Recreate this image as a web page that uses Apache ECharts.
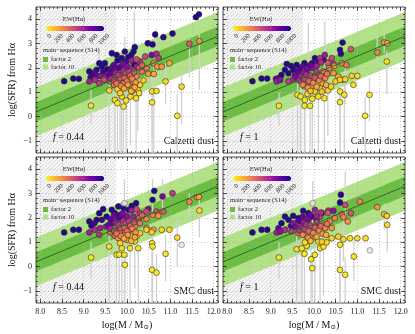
<!DOCTYPE html>
<html>
<head>
<meta charset="utf-8">
<script src="https://cdn.jsdelivr.net/npm/echarts@6/dist/echarts.min.js"></script>
<style>
html, body { margin: 0; padding: 0; background: #fff; }
#chart { width: 415px; height: 334px; }
</style>
</head>
<body>
<div id="chart"></div>
<script>
// axis ranges and ticks
var xMin = 7.9, xMax = 12.1, yMin = -1.5, yMax = 4.5;
var xMajor = [8.0, 8.5, 9.0, 9.5, 10.0, 10.5, 11.0, 11.5, 12.0];
var yMajor = [-1, 0, 1, 2, 3, 4];
var ewTicks = [0, 200, 400, 600, 800, 1000];

// main sequence (S14): value at left edge and slope
var msAtLeft = 0.19, msSlope = 0.74;
var factor2Width = 0.4, factor10Width = 1.0;
var hatchEdge = 9.75;

// [log M, log SFR, EW(Ha), errLow, errHigh]
var calz044 = [
  [8.55,1.45,950],[8.76,1.56,950],[8.89,1.55,950],[9.13,1.85,950],[9.21,1.71,950],[9.16,1.62,900],
  [9.30,1.92,950],[9.36,2.19,950,1.7,2.6],[9.42,2.05,950],[9.49,2.19,950],[9.45,1.85,900],[9.55,1.95,950],
  [9.65,2.60,950],[9.68,2.08,900],[9.76,2.53,950],[9.78,2.30,950],[9.88,2.40,950],[9.95,2.67,950,2.2,3.3],
  [9.98,2.26,900],[10.03,2.44,950],[10.10,2.53,950],[10.15,2.67,950],[10.18,2.85,950],[10.17,2.12,950,1.5,4.3],
  [10.48,3.01,950],[10.59,2.96,950],[10.65,3.37,950],[10.84,3.26,950],[11.05,3.41,950],[11.59,4.08,950],
  [11.66,4.20,950],[9.25,1.81,850],[9.32,1.67,800],
  [9.13,1.44,650],[9.26,1.51,600],[9.38,1.67,700],[9.52,1.64,650],[9.61,1.78,700],[9.72,1.92,750],
  [9.84,1.99,700],[9.95,2.05,650],[10.07,1.99,600],[10.22,2.05,650],[10.30,2.26,600],[10.42,2.47,500],
  [10.57,2.53,750],[10.68,2.58,600,1.5,3.6],[10.73,2.40,550],[11.44,2.99,450,1.6,3.2],[9.36,1.37,550],
  [9.47,1.51,500],[9.72,1.62,550],[9.88,1.75,500],
  [9.61,1.44,400],[9.70,1.30,350],[9.82,1.51,400],[9.93,1.37,300],[10.05,1.58,350],[10.13,1.44,300],
  [10.22,1.64,300],[10.34,1.85,350],[10.45,1.99,350],[10.61,2.19,300],[10.70,2.05,250],[10.49,1.75,250],
  [10.62,1.75,200,-1.5,2.1],[10.80,2.05,250],[10.98,2.19,200],[11.67,3.10,250,1.1,3.4],[9.99,1.21,250],
  [10.15,1.21,200],
  [9.17,0.45,50,-0.3,1.1],[9.59,1.07,80,-1.5,1.6],[9.78,1.12,90],[9.72,0.68,60,-1.5,1.2],
  [9.78,0.55,40,-1.5,1.0],[9.88,0.82,70,-1.5,1.3],[9.92,0.41,30,-1.5,0.9],[9.98,0.66,50,-1.5,1.1],
  [10.08,0.82,80,-1.2,1.3],[10.21,0.75,60,-1.5,1.2],[10.25,1.10,90,-0.6,1.6],[10.30,1.30,100],
  [10.38,1.48,110],[10.28,0.96,70],[10.58,1.03,60,-0.9,1.8],[10.68,1.05,60],[10.58,0.58,40,-1.5,1.1],
  [10.89,1.44,80,0.5,2.2],[11.26,1.23,70,-0.3,1.8],[11.16,0.03,30,-1.5,0.9],[10.11,1.03,80],
  [9.84,0.96,90,-1.5,1.4],
  [9.58,1.72,800],[9.63,1.55,600],[9.70,1.48,500],[9.74,1.80,650],[9.80,1.70,550],[9.85,1.58,450],
  [9.90,1.90,600],[9.94,1.60,400],[9.97,1.78,500],[10.00,1.45,350],[10.04,1.86,550],[10.08,1.68,400],
  [10.12,1.55,300],[10.16,1.82,450],[10.20,1.40,250],[9.62,1.95,850],[9.70,2.12,800],[9.82,2.02,850],
  [9.90,2.18,750],[10.00,2.06,700],[10.10,2.30,650],[10.22,2.35,500],[10.28,2.00,450],[10.35,2.10,400],
  [9.76,1.35,350],[9.86,1.25,300],[9.93,1.15,200],[10.02,1.30,250],[10.10,1.05,150],[10.18,1.20,200]
];
var calz100 = [
  [8.58,1.45,950],[8.79,1.56,950],[8.92,1.56,950],[10.66,3.04,950],[10.60,2.74,950],[10.62,2.58,950],
  [9.37,2.16,950],[9.47,2.08,950],[9.52,1.92,950],[9.60,2.12,950],[9.68,1.99,950],[9.33,1.92,950],
  [9.41,1.78,950],[9.25,1.71,950],[9.18,1.58,900],[9.78,2.19,950],[9.87,2.05,900,1.6,3.85],[9.96,2.19,950],
  [10.10,2.26,900],[10.02,2.40,950],[10.22,2.33,900],[9.12,1.55,800],
  [9.14,1.44,650],[9.22,1.50,700],[9.56,1.71,750],[9.72,1.78,650],[9.83,1.85,700],[9.95,1.99,700],
  [10.14,2.40,600],[10.25,2.53,650,1.9,3.9],[10.41,2.40,500],[10.45,2.16,550],[10.85,2.77,450],[9.52,1.53,600],
  [9.41,1.44,550],
  [9.64,1.58,400],[9.75,1.44,350],[9.87,1.58,400],[9.98,1.51,350],[10.10,1.71,300],[10.22,1.85,350],
  [10.35,1.99,300],[10.47,2.08,250],[10.64,2.19,300],[10.75,2.12,350],[10.45,1.78,250],[10.56,1.64,200],
  [10.68,1.51,200],[11.46,2.63,300,2.2,3.3],[11.62,3.04,250,2.6,3.4],[11.69,3.01,200],[9.79,1.23,250],
  [9.95,1.26,250],
  [9.19,0.44,40,-0.4,1.0],[9.62,0.89,60,-1.5,1.4],[9.69,0.82,50,-1.5,1.3],[9.79,0.68,40,-1.5,1.2],
  [9.85,0.93,70],[9.78,0.44,30,-1.5,0.9],[9.91,0.44,40,-1.5,0.9],[9.96,0.73,50,-1.5,1.2],
  [10.10,0.82,60,-1.5,1.3],[10.24,0.75,50,-1.5,1.2],[10.32,1.07,80,-0.8,1.6],[10.39,1.23,90],
  [10.50,1.44,100],[10.60,1.51,90],[10.72,1.53,80,0.5,2.3],[10.87,1.67,90],[11.00,1.67,70],
  [10.91,1.30,60],[10.60,1.03,50,-1.0,1.8],[10.70,0.89,40,-1.5,1.5],[10.60,0.59,30,-1.5,1.1],
  [11.28,0.89,40,-0.2,1.6],[11.18,0.03,30,-1.5,0.8],[11.68,2.26,60,0.9,2.7],[10.14,1.16,100],
  [10.02,1.03,80],
  [9.58,1.62,750],[9.66,1.48,550],[9.70,1.65,650],[9.78,1.55,500],[9.82,1.72,600],[9.88,1.45,400],
  [9.92,1.68,500],[9.98,1.38,300],[10.02,1.60,450],[10.06,1.82,550],[10.12,1.48,300],[10.16,1.66,400],
  [10.20,1.35,250],[10.26,1.58,300],[10.30,1.75,350],[9.64,1.88,850],[9.74,2.05,800],[9.84,1.98,750],
  [9.92,2.12,800],[10.06,2.08,650],[10.16,2.22,600],[10.32,2.20,450],[9.74,1.30,300],[9.86,1.18,250],
  [9.92,1.05,150],[10.06,1.22,200],[10.18,1.02,120],[10.28,1.30,180]
];
var smc044 = [
  [8.55,1.40,950],[8.76,1.51,950],[8.89,1.51,950],[9.13,1.85,950],[9.18,1.67,950],[9.30,1.92,950],
  [9.36,2.19,950],[9.45,2.36,950],[9.53,2.05,950],[9.65,2.33,950],[9.72,2.19,950],[9.80,2.47,950],
  [9.92,2.40,950],[10.03,2.33,950],[10.11,2.49,950],[10.21,2.60,950],[10.59,2.74,950,2.0,3.6],
  [10.63,3.11,950],[9.25,1.78,900],[9.42,1.92,900],[9.84,2.12,900],
  [10.49,2.36,750],[9.13,1.40,650],[9.26,1.51,600],[9.38,1.58,650],[9.52,1.64,700],[9.65,1.78,750],
  [9.76,1.92,700],[9.88,1.99,650],[9.99,2.05,600],[10.15,2.05,650],[10.30,2.19,550],[10.45,2.26,500],
  [10.82,2.88,750,2.2,3.6],[11.05,3.01,550],[10.68,2.26,450],[10.84,2.26,450],[9.36,1.30,550],
  [9.61,1.40,400],[9.72,1.26,350],[9.84,1.44,400],[9.95,1.30,300],[10.07,1.51,350],[10.18,1.64,300],
  [10.30,1.78,350],[10.45,1.95,300],[10.59,2.12,300],[10.72,2.08,250],[10.45,1.58,250],[10.61,1.51,200],
  [11.44,2.66,300,2.0,3.0],[11.61,2.85,250],[11.66,2.86,200],[9.80,1.16,250],[9.99,1.10,250],
  [9.17,0.37,40,-0.5,1.0],[9.59,0.82,60,-1.5,1.4],[9.76,0.48,40,-1.5,1.0],[9.82,0.49,40,-1.5,1.0],
  [9.88,0.75,60,-1.5,1.3],[9.94,0.48,40,-1.5,1.0],[9.95,0.07,30,-1.5,0.6],[10.07,0.75,60,-1.5,1.3],
  [10.18,1.03,80,-0.9,1.6],[10.22,1.23,90],[10.30,1.37,100],[10.26,0.75,50,-1.5,1.3],[10.45,1.51,100],
  [10.57,1.41,90],[10.80,1.51,80],[10.98,1.51,70],[10.58,0.96,60,-1.0,1.7],[10.59,0.82,50,-1.5,1.5],
  [10.89,0.52,40,-0.6,1.3],[11.16,1.19,70,0.0,1.9],[10.58,-0.14,30,-1.5,0.6],[10.68,-0.25,30,-1.5,0.5],
  [11.67,2.30,60,1.2,2.8],[10.11,1.23,100],[9.84,0.96,80],
  [9.58,1.72,800],[9.63,1.55,600],[9.70,1.48,500],[9.74,1.80,650],[9.80,1.70,550],[9.85,1.58,450],
  [9.90,1.90,600],[9.94,1.60,400],[9.97,1.78,500],[10.00,1.45,350],[10.04,1.86,550],[10.08,1.68,400],
  [10.12,1.55,300],[10.16,1.82,450],[10.20,1.40,250],[9.62,1.95,850],[9.70,2.12,800],[9.82,2.02,850],
  [9.90,2.18,750],[10.00,2.06,700],[10.10,2.30,650],[10.22,2.35,500],[10.28,2.00,450],[10.35,2.10,400],
  [9.76,1.35,350],[9.86,1.25,300],[9.93,1.15,200],[10.02,1.30,250],[10.10,1.05,150],[10.18,1.20,200]
];
var smc044Grey = [[9.94,2.60,1.7,3.6],[11.26,0.89]];
var smc100 = [
  [8.58,1.40,950],[8.79,1.51,950],[8.92,1.51,950],[10.60,2.63,950],[10.62,2.95,950],[9.33,2.05,950],
  [9.41,1.92,950],[9.52,2.08,950],[9.64,1.99,950],[9.75,2.29,950],[9.87,2.19,950],[9.47,1.67,900],
  [9.25,1.78,950],[9.95,2.05,900],[10.06,1.92,850],[9.18,1.58,850],
  [9.14,1.40,650],[9.22,1.44,700],[9.33,1.51,600],[9.52,1.78,700],[9.72,1.85,650],[9.87,1.92,700],
  [10.02,2.33,650],[10.18,2.19,700],[10.33,2.30,600],[10.45,2.29,700],[10.14,2.05,550],[10.85,2.19,450],
  [10.72,2.53,500,1.9,3.9],[9.48,1.44,550],
  [9.64,1.37,400],[9.79,1.30,350],[9.95,1.44,350],[10.10,1.58,300],[10.22,1.71,350],[10.37,1.85,300],
  [10.48,1.99,300],[10.64,2.15,350],[10.68,2.03,300],[10.78,1.85,250],[11.06,2.67,300],[11.46,2.44,250],
  [11.62,2.15,150,1.5,2.6],[11.68,2.08,100],[10.41,1.58,250],[9.87,1.16,250],[10.02,1.20,250],
  [9.19,0.37,40,-0.5,1.0],[9.60,0.71,60,-1.5,1.3],[9.72,0.75,50,-1.5,1.3],[9.78,0.52,40,-1.5,1.0],
  [9.83,0.85,70],[9.96,-0.07,30,-1.5,0.5],[9.93,0.30,40,-1.5,0.8],[10.02,0.48,40,-1.5,1.0],
  [10.14,0.75,60,-1.5,1.3],[10.22,0.82,60,-1.2,1.4],[10.29,0.99,80],[10.41,1.16,90],[10.56,1.23,90],
  [10.68,1.12,80,0.2,1.9],[10.83,1.16,70],[11.00,1.16,60],[11.19,1.16,60],[10.60,0.89,50,-1.5,1.5],
  [10.60,-0.14,30,-1.5,0.6],[10.72,-0.34,30,-1.5,0.4],[10.92,0.41,40,-0.6,1.2],[11.69,1.71,60,0.6,2.3],
  [10.10,1.03,80],[9.79,0.99,70],
  [9.58,1.62,750],[9.66,1.48,550],[9.70,1.65,650],[9.78,1.55,500],[9.82,1.72,600],[9.88,1.45,400],
  [9.92,1.68,500],[9.98,1.38,300],[10.02,1.60,450],[10.06,1.82,550],[10.12,1.48,300],[10.16,1.66,400],
  [10.20,1.35,250],[10.26,1.58,300],[10.30,1.75,350],[9.64,1.88,850],[9.74,2.05,800],[9.84,1.98,750],
  [9.92,2.12,800],[10.06,2.08,650],[10.16,2.22,600],[10.32,2.20,450],[9.74,1.30,300],[9.86,1.18,250],
  [9.92,1.05,150],[10.06,1.22,200],[10.18,1.02,120],[10.28,1.30,180]
];
var smc100Grey = [[9.97,2.60,1.6,3.5],[11.29,0.66]];

var panelData = [calz044, calz100, smc044, smc100];
var panelGrey = [[], [], smc044Grey, smc100Grey];
var panelF = ['0.44', '1', '0.44', '1'];
var panelDust = ['Calzetti dust', 'Calzetti dust', 'SMC dust', 'SMC dust'];

var plasmaR = ['#f0f921','#fcce25','#fca636','#f2844b','#e16462','#cc4778',
               '#b12a90','#8f0da4','#6a00a8','#41049d','#0d0887'];
var lightGreen = '#b3e187', darkGreen = '#6dbd45', lineGreen = '#2c6a1f';
var serif = 'Liberation Serif';

var pos = [[36, 7], [223, 7], [36, 157], [223, 157]];
var pw = 182, ph = 146;

function ms(x) { return msAtLeft + msSlope * (x - xMin); }
function fmt(v) { return String(v).replace('-', '\u2212'); }

var xMinor = [], yMinor = [];
for (var t = 79; t <= 121; t++) xMinor.push(t / 10);
for (var s = -7; s <= 22; s++) yMinor.push(s / 5);

// hatch pattern for the grey region
var hatch = document.createElement('canvas');
hatch.width = 4; hatch.height = 4;
var hg = hatch.getContext('2d');
hg.fillStyle = '#f4f4f4'; hg.fillRect(0, 0, 4, 4);
hg.strokeStyle = '#d6d6d6'; hg.lineWidth = 0.7;
hg.beginPath();
hg.moveTo(0, 4); hg.lineTo(4, 0);
hg.moveTo(-1, 1); hg.lineTo(1, -1);
hg.moveTo(3, 5); hg.lineTo(5, 3);
hg.stroke();

var grids = [], xAxes = [], yAxes = [], series = [], graphics = [], scatterIdx = [];
var tickStyle = {color: '#222', width: 0.7};
var labelStyle = {fontFamily: serif, fontSize: 8, color: '#222'};

function bandRender(width, color) {
  return function (params, api) {
    var a = api.value(0), b = api.value(1);
    var pts = [[a, ms(a) - width], [b, ms(b) - width], [b, ms(b) + width], [a, ms(a) + width]]
      .map(function (p) { return api.coord(p); });
    return {type: 'polygon', shape: {points: pts}, style: {fill: color}};
  };
}

for (var i = 0; i < 4; i++) {
  var L = pos[i][0], T = pos[i][1];
  grids.push({left: L, top: T, width: pw, height: ph, show: true,
              borderColor: '#222', borderWidth: 0.8, backgroundColor: 'transparent'});

  ['bottom', 'top'].forEach(function (side) {
    xAxes.push({gridIndex: i, type: 'value', min: xMin, max: xMax, position: side, splitNumber: 8,
      axisLine: {show: false, onZero: false},
      axisTick: {show: true, inside: true, length: 4, customValues: xMajor, lineStyle: tickStyle},
      axisLabel: Object.assign({show: side === 'bottom' && i >= 2, customValues: xMajor, margin: 5,
        formatter: function (v) { return v.toFixed(1); }}, labelStyle),
      splitLine: {show: side === 'bottom', lineStyle: {color: '#b0b0b0', width: 0.7, type: [1, 2]}}});
    xAxes.push({gridIndex: i, type: 'value', min: xMin, max: xMax, position: side,
      axisLine: {show: false, onZero: false}, axisLabel: {show: false}, splitLine: {show: false},
      axisTick: {show: true, inside: true, length: 2, customValues: xMinor, lineStyle: tickStyle}});
  });
  ['left', 'right'].forEach(function (side) {
    yAxes.push({gridIndex: i, type: 'value', min: yMin, max: yMax, position: side, splitNumber: 6,
      axisLine: {show: false, onZero: false},
      axisTick: {show: true, inside: true, length: 4, customValues: yMajor, lineStyle: tickStyle},
      axisLabel: Object.assign({show: side === 'left' && i % 2 === 0, customValues: yMajor, margin: 4,
        formatter: fmt}, labelStyle),
      splitLine: {show: side === 'left', lineStyle: {color: '#b0b0b0', width: 0.7, type: [1, 2]}}});
    yAxes.push({gridIndex: i, type: 'value', min: yMin, max: yMax, position: side,
      axisLine: {show: false, onZero: false}, axisLabel: {show: false}, splitLine: {show: false},
      axisTick: {show: true, inside: true, length: 2, customValues: yMinor, lineStyle: tickStyle}});
  });

  var xi = i * 4, yi = i * 4;
  series.push({type: 'custom', xAxisIndex: xi, yAxisIndex: yi, z: -1, silent: true,
    encode: {x: [0, 1]}, data: [[xMin, hatchEdge]],
    renderItem: function (params, api) {
      var p0 = api.coord([api.value(0), yMax]), p1 = api.coord([api.value(1), yMin]);
      return {type: 'rect', shape: {x: p0[0], y: p0[1], width: p1[0] - p0[0], height: p1[1] - p0[1]},
              style: {fill: {image: hatch, repeat: 'repeat'}}};
    }});
  series.push({type: 'custom', xAxisIndex: xi, yAxisIndex: yi, z: -1, silent: true,
    encode: {x: [0, 1]}, data: [[xMin, xMax]], renderItem: bandRender(factor10Width, lightGreen)});
  series.push({type: 'custom', xAxisIndex: xi, yAxisIndex: yi, z: -1, silent: true,
    encode: {x: [0, 1]}, data: [[xMin, xMax]], renderItem: bandRender(factor2Width, darkGreen)});
  series.push({type: 'line', xAxisIndex: xi, yAxisIndex: yi, symbol: 'none', silent: true,
    data: [[xMin, ms(xMin)], [xMax, ms(xMax)]], lineStyle: {color: lineGreen, width: 1}});

  var rows = panelData[i], grey = panelGrey[i];
  var errs = [];
  rows.forEach(function (r) { if (r.length > 3) errs.push([r[0], r[3], r[4]]); });
  grey.forEach(function (r) { if (r.length > 2) errs.push([r[0], r[2], r[3]]); });
  series.push({type: 'custom', xAxisIndex: xi, yAxisIndex: yi, silent: true,
    encode: {x: 0, y: [1, 2]}, data: errs,
    renderItem: function (params, api) {
      var a = api.coord([api.value(0), api.value(1)]), b = api.coord([api.value(0), api.value(2)]);
      return {type: 'line', shape: {x1: a[0], y1: a[1], x2: b[0], y2: b[1]},
              style: {stroke: '#d0d0d0', lineWidth: 1.3}};
    }});
  scatterIdx.push(series.length);
  series.push({type: 'scatter', xAxisIndex: xi, yAxisIndex: yi, symbolSize: 5.8,
    data: rows.map(function (r) { return [r[0], r[1], r[2]]; }),
    itemStyle: {borderColor: '#2a2a2a', borderWidth: 0.6, opacity: 1}});
  if (grey.length) {
    series.push({type: 'scatter', xAxisIndex: xi, yAxisIndex: yi, symbolSize: 5.8,
      data: grey.map(function (r) { return [r[0], r[1]]; }),
      itemStyle: {color: '#e2e2e2', borderColor: '#555', borderWidth: 0.6}});
  }

  // EW colourbar
  var cbX = L + 10, cbY = T + 19, cbW = 58;
  graphics.push({type: 'text', x: L + 38, y: T + 12.5, style: {text: 'EW(H\u03b1)', font: '6.5px ' + serif,
    fill: '#222', textAlign: 'center', textVerticalAlign: 'middle'}});
  graphics.push({type: 'rect', shape: {x: cbX, y: cbY, width: cbW, height: 5, r: 2.5},
    style: {fill: new echarts.graphic.LinearGradient(0, 0, 1, 0, plasmaR.map(function (c, k) {
      return {offset: k / (plasmaR.length - 1), color: c};
    }))}});
  ewTicks.forEach(function (v) {
    graphics.push({type: 'text', x: cbX + cbW * v / 1000 + 2, y: cbY + 6.5, rotation: Math.PI / 4,
      style: {text: String(v), font: '6.5px ' + serif, fill: '#222', textAlign: 'right', textVerticalAlign: 'top'}});
  });
  // legend
  graphics.push({type: 'text', x: L + 7, y: T + 43, style: {text: 'main\u2212sequence (S14)',
    font: '6.5px ' + serif, fill: '#222', textVerticalAlign: 'middle'}});
  graphics.push({type: 'rect', shape: {x: L + 7, y: T + 50, width: 5, height: 5}, style: {fill: darkGreen}});
  graphics.push({type: 'text', x: L + 15, y: T + 52.5, style: {text: 'factor 2', font: '6.5px ' + serif,
    fill: '#222', textVerticalAlign: 'middle'}});
  graphics.push({type: 'rect', shape: {x: L + 7, y: T + 57.5, width: 5, height: 5}, style: {fill: lightGreen}});
  graphics.push({type: 'text', x: L + 15, y: T + 60, style: {text: 'factor 10', font: '6.5px ' + serif,
    fill: '#222', textVerticalAlign: 'middle'}});
  // annotations
  graphics.push({type: 'text', x: L + 17, y: T + 130, style: {text: '{i|f} = ' + panelF[i],
    font: '10px ' + serif, fill: '#111', textVerticalAlign: 'middle',
    rich: {i: {fontStyle: 'italic', fontFamily: serif, fontSize: 10}}}});
  graphics.push({type: 'text', x: L + pw - 4, y: T + 134, style: {text: panelDust[i],
    font: '10px ' + serif, fill: '#111', textAlign: 'right', textVerticalAlign: 'middle'}});
}

// axis titles
[80, 230].forEach(function (cy) {
  graphics.push({type: 'text', x: 12, y: cy, rotation: Math.PI / 2, style: {text: 'log(SFR) from H\u03b1',
    font: '10px ' + serif, fill: '#111', textAlign: 'center', textVerticalAlign: 'middle'}});
});
[127, 314].forEach(function (cx) {
  graphics.push({type: 'text', x: cx, y: 325, style: {text: 'log(M / M{s|\u2299})',
    font: '10px ' + serif, fill: '#111', textAlign: 'center', textVerticalAlign: 'middle',
    rich: {s: {fontFamily: 'DejaVu Serif', fontSize: 6.5, padding: [5, 0, 0, 0]}}}});
});

var myChart = echarts.init(document.getElementById('chart'));
var option = {
  animation: false,
  grid: grids,
  xAxis: xAxes,
  yAxis: yAxes,
  visualMap: [{type: 'continuous', show: false, min: 0, max: 1000, dimension: 2,
               seriesIndex: scatterIdx, inRange: {color: plasmaR}}],
  series: series,
  graphic: graphics
};
myChart.setOption(option, true);
</script>
</body>
</html>
